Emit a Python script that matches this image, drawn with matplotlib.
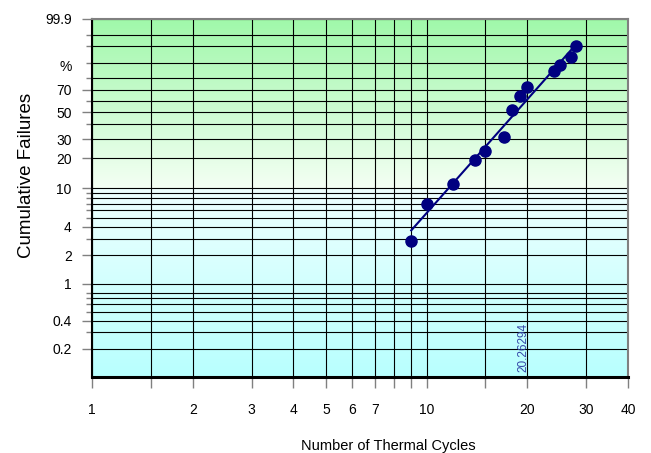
import numpy as np
import matplotlib
matplotlib.use("Agg")
import matplotlib.pyplot as plt
from matplotlib.colors import to_rgb
import matplotlib.transforms as mtransforms

plt.rcParams['font.family'] = ['Liberation Sans', 'DejaVu Sans']

# ---- data ----
cycles = [9, 10, 12, 14, 15, 17, 18, 19, 20, 24, 25, 27, 28]
cum_fail_pct = [2.8, 6.9, 11.0, 19.1, 23.3, 31.5, 51.9, 64.6, 72.4, 85.0, 88.9, 93.2, 97.2]
eta = 20.26294
beta = 4.05
fit_range = [9, 28]

x_major = [1, 2, 3, 4, 5, 6, 7, 10, 20, 30, 40]
x_minor = [1.5, 8, 9, 15]
y_major = [0.2, 0.4, 1, 2, 4, 10, 20, 30, 50, 70, 99.9]
y_major_labels = ['0.2', '0.4', '1', '2', '4', '10', '20', '30', '50', '70', '99.9']
y_minor = [0.3, 0.5, 0.6, 0.7, 0.8, 3, 5, 6, 7, 8, 9, 40, 60, 80, 90, 97, 99]


def fwd(p):
    p = np.clip(np.asarray(p, dtype=float), 1e-9, 100 - 1e-9)
    return np.log(-np.log(1 - p / 100.0))


def inv(w):
    return 100.0 * (1 - np.exp(-np.exp(np.asarray(w, dtype=float))))


W, H = 651, 453
fig = plt.figure(figsize=(W / 100, H / 100), dpi=100)
ax = fig.add_axes([92 / W, 1 - 377 / H, (628 - 92) / W, (377 - 19) / H])
ax.set_xscale('log')
ax.set_yscale('function', functions=(fwd, inv))
ax.set_xlim(1, 40)
ax.set_ylim(0.1, 99.9)

# background gradient
w0, w1 = fwd(0.1), fwd(99.9)
f10 = float((fwd(10) - w0) / (w1 - w0))
n = 400
fr = np.linspace(0, 1, n)  # 0 bottom, 1 top
c_bot = np.array(to_rgb('#b8ffff'))
c_mid_lo = np.array(to_rgb('#eefffe'))
c_mid_hi = np.array(to_rgb('#f4fff4'))
c_top = np.array(to_rgb('#a0f8aa'))
img = np.zeros((n, 1, 3))
for i, f in enumerate(fr):
    if f < f10:
        t = f / f10
        img[i, 0] = c_bot * (1 - t) + c_mid_lo * t
    else:
        t = (f - f10) / (1 - f10)
        img[i, 0] = c_mid_hi * (1 - t) + c_top * t
ax.imshow(img, extent=[0, 1, 0, 1], transform=ax.transAxes, origin='lower',
          aspect='auto', zorder=0, interpolation='bilinear')

# ticks
ax.set_xticks(x_major)
ax.set_xticklabels([str(v) for v in x_major])
ax.set_xticks(x_minor, minor=True)
ax.set_xticklabels([], minor=True)
ax.set_yticks(y_major)
ax.set_yticklabels(y_major_labels)
ax.set_yticks(y_minor, minor=True)
ax.set_yticklabels([], minor=True)

ax.tick_params(axis='x', which='both', length=8, width=1, color='#808080',
               labelsize=10, pad=11)
ax.tick_params(axis='y', which='major', length=7.5, width=1, color='#808080',
               labelsize=10, pad=7)
ax.tick_params(axis='y', which='minor', length=4, width=1, color='#808080')

ax.grid(which='both', axis='both', color='black', lw=0.8, zorder=1)
ax.set_axisbelow(True)

# '%' label
trans = mtransforms.blended_transform_factory(ax.transAxes, ax.transData)
ax.text(-0.038, 88, '%', transform=trans, ha='right', va='center', fontsize=10)

# fit line
fit_pct = [100 * (1 - np.exp(-(t / eta) ** beta)) for t in fit_range]
ax.plot(fit_range, fit_pct, color='#000080', lw=1.5, zorder=3)
ax.plot(cycles, cum_fail_pct, 'o', color='#000080', ms=8, zorder=4)

# eta annotation
trans2 = mtransforms.blended_transform_factory(ax.transData, ax.transAxes)
ax.text(eta, 0.014, f'{eta:.5f}', transform=trans2, rotation=90, ha='right',
        va='bottom', color='#3446a8', fontsize=8.5, zorder=5)

# spines
for s in ['top', 'right']:
    ax.spines[s].set_color('#808080')
    ax.spines[s].set_linewidth(1.5)
ax.spines['left'].set_color('black')
ax.spines['left'].set_linewidth(1.5)
ax.spines['bottom'].set_color('black')
ax.spines['bottom'].set_linewidth(2.2)

fig.text(388 / W, 1 - 446 / H, 'Number of Thermal Cycles', ha='center', va='center', fontsize=10.5)
fig.text(27 / W, 1 - 175 / H, 'Cumulative Failures', ha='center', va='center',
         rotation=90, fontsize=13.5)

fig.savefig('out.png', dpi=100)
